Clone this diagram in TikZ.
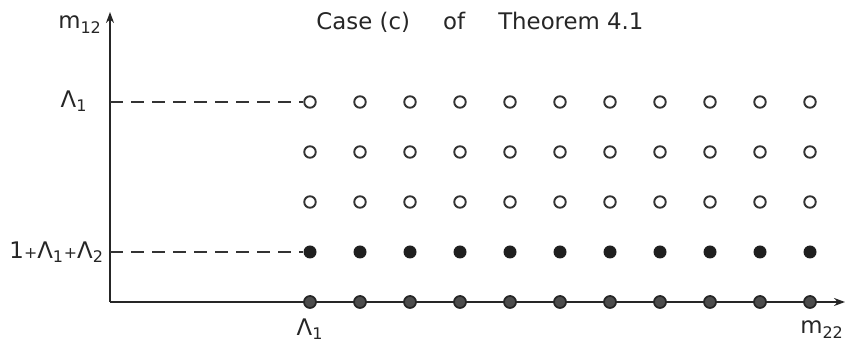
\documentclass[tikz,border=0pt]{standalone}
\usepackage{fontspec}
\setmainfont{DejaVu Sans}
\usepackage{tikz}
\usetikzlibrary{arrows.meta, positioning}

\begin{document}
\begin{tikzpicture}[
            opendot/.style={circle, draw=black!80, line width=1.1pt, fill=white, inner sep=0pt, minimum size=2.3mm},
            fulldot/.style={circle, fill=black!88, inner sep=0pt, minimum size=2.6mm},
            axisdot/.style={circle, draw=black!85, line width=1pt, fill=black!70, inner sep=0pt, minimum size=2.4mm},
            axis/.style={line width=1pt, black!85, -{Stealth[length=2.2mm, width=1.6mm]}},
            guide/.style={black!80, thick, dash pattern=on 2.6mm off 1.6mm},
            lbl/.style={font=\fontsize{13}{15}\selectfont, text=black!85, inner sep=1pt}
        ]
            \useasboundingbox (-2.2,-0.84) rectangle (15.1,6.04);

            % axes
            \coordinate (origin) at (0,0);
            \coordinate (ytop) at (0,5.8);
            \coordinate (xend) at (14.7,0);
            \coordinate (yhigh) at (0,4);
            \coordinate (ylow) at (0,1);
            \draw[axis] (origin) -- (ytop);
            \draw[axis] (origin) -- (xend);

            % lattice points
            \foreach \c in {4,...,14} {
                \foreach \r in {2,3,4}
                    \node[opendot] (p-\c-\r) at (\c,\r) {};
                \node[fulldot] (p-\c-1) at (\c,1) {};
                \node[axisdot] (p-\c-0) at (\c,0) {};
            }

            \draw[guide] (yhigh) -- (p-4-4);
            \draw[guide] (ylow) -- (p-4-1);

            % labels
            \node[lbl] (title) at (7.4,5.6) {Case (c)\hspace{1.45em}of\hspace{1.45em}Theorem 4.1};
            \node[lbl] (m12) at (-0.6,5.55) {m\textsubscript{12}};
            \node[lbl] (lamhigh) at (-0.72,4.02) {Λ\textsubscript{1}};
            \node[lbl, anchor=east] (lamsum) at (-0.08,1) {1{\small+}Λ\textsubscript{1}{\small+}Λ\textsubscript{2}};
            \node[lbl, below=1.5mm of p-4-0] (lamaxis) {Λ\textsubscript{1}};
            \node[lbl] (m22) at (14.24,-0.55) {m\textsubscript{22}};
        \end{tikzpicture}
\end{document}
